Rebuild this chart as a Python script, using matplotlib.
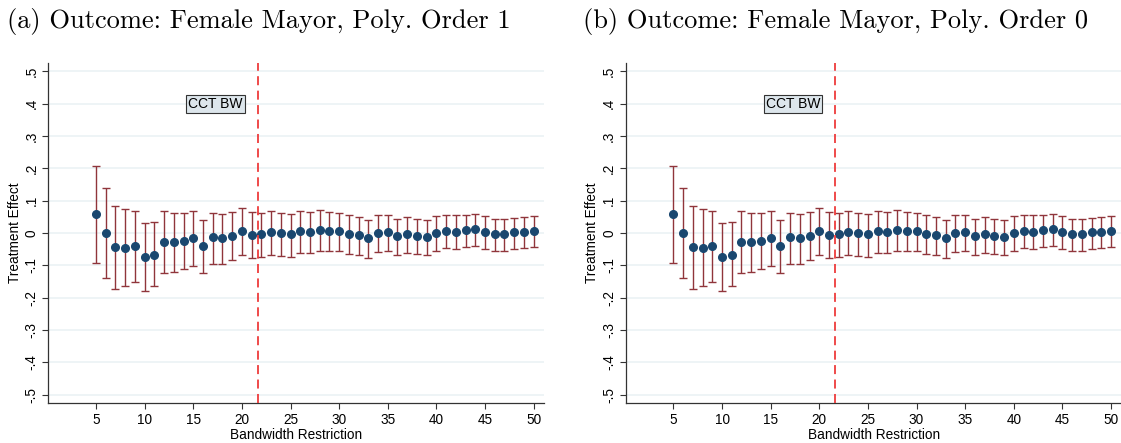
import matplotlib as mpl
import matplotlib.pyplot as plt
import numpy as np

# bandwidth restrictions and RD estimates with 95% CI
bandwidth = np.arange(5, 51)
effect = [0.060, 0.000, -0.043, -0.045, -0.041, -0.074, -0.067, -0.027, -0.029, -0.024,
          -0.017, -0.041, -0.014, -0.016, -0.009, 0.006, -0.006, -0.002, 0.002, 0.000,
          -0.004, 0.005, 0.003, 0.010, 0.007, 0.007, -0.002, -0.006, -0.016, 0.001,
          0.002, -0.009, -0.004, -0.009, -0.011, -0.001, 0.006, 0.004, 0.008, 0.011,
          0.002, -0.004, -0.003, 0.003, 0.003, 0.006]
ci_upper = [0.208, 0.139, 0.085, 0.074, 0.069, 0.032, 0.034, 0.069, 0.063, 0.063,
            0.068, 0.041, 0.062, 0.059, 0.066, 0.078, 0.064, 0.063, 0.068, 0.063,
            0.059, 0.068, 0.064, 0.071, 0.066, 0.063, 0.056, 0.050, 0.041, 0.057,
            0.057, 0.044, 0.048, 0.043, 0.041, 0.051, 0.057, 0.056, 0.057, 0.060,
            0.051, 0.044, 0.043, 0.047, 0.048, 0.054]
ci_lower = [-0.093, -0.139, -0.172, -0.165, -0.153, -0.179, -0.165, -0.123, -0.120, -0.112,
            -0.102, -0.124, -0.096, -0.096, -0.085, -0.069, -0.078, -0.074, -0.069, -0.071,
            -0.074, -0.061, -0.063, -0.055, -0.057, -0.057, -0.065, -0.069, -0.076, -0.058,
            -0.057, -0.067, -0.062, -0.066, -0.068, -0.057, -0.047, -0.049, -0.044, -0.041,
            -0.050, -0.056, -0.056, -0.049, -0.047, -0.043]
cct_bw = 21.65

titles = ['(a) Outcome: Female Mayor, Poly. Order 1',
          '(b) Outcome: Female Mayor, Poly. Order 0']
yticks = np.round(np.arange(-0.5, 0.51, 0.1), 1)
ytick_labels = ['-.5', '-.4', '-.3', '-.2', '-.1', '0', '.1', '.2', '.3', '.4', '.5']
xticks = np.arange(5, 51, 5)

mpl.rc('font', family=['Liberation Sans', 'DejaVu Sans'], size=9.8)

fig = plt.figure(figsize=(11.21, 4.43), dpi=100)
ax_left = [0.0431, 0.5582]
title_x = [0.2306, 0.745]

effect = np.array(effect)
yerr = np.vstack([effect - np.array(ci_lower), np.array(ci_upper) - effect])

for i in range(2):
    ax = fig.add_axes([ax_left[i], 0.0896, 0.4425, 0.769])
    ax.set_xlim(0.1, 51.1)
    ax.set_ylim(-0.527, 0.527)
    for y in yticks:
        ax.axhline(y, color='#edf3f6', lw=1.3, zorder=0)
    ax.errorbar(bandwidth, effect, yerr=yerr, fmt='none', ecolor='#90353b',
                elinewidth=1.0, capsize=3, capthick=1.0, zorder=2)
    ax.plot(bandwidth, effect, 'o', color='#1a476f', ms=5.5, zorder=3)
    ax.axvline(cct_bw, color='#ee3b3b', lw=1.3, ls=(0, (5, 3)), zorder=4)
    ax.text(20.1, 0.4, 'CCT BW', ha='right', va='center', fontsize=10,
            bbox=dict(boxstyle='square,pad=0.15', fc='#dde6ec', ec='#333333', lw=0.8))

    ax.set_xticks(xticks)
    ax.set_yticks(yticks)
    ax.set_yticklabels(ytick_labels, rotation=90, va='center')
    ax.tick_params(direction='out', length=4, width=0.8, color='#333333', pad=3)
    ax.set_xlabel('Bandwidth Restriction', labelpad=1)
    ax.set_ylabel('Treatment Effect', labelpad=2)
    for side in ['top', 'right']:
        ax.spines[side].set_visible(False)
    for side in ['left', 'bottom']:
        ax.spines[side].set_color('#333333')
        ax.spines[side].set_linewidth(0.9)

    fig.text(title_x[i], 0.952, titles[i], ha='center', va='center',
             family='cmr10', fontsize=19)

plt.savefig('out.png', dpi=100)
